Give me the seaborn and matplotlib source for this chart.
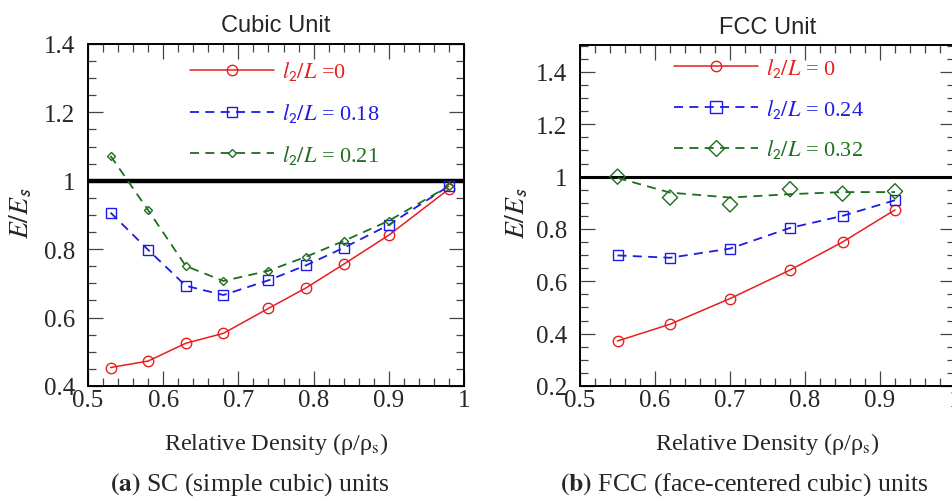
import numpy as np
import pandas as pd
import seaborn as sns
import matplotlib
matplotlib.use("Agg")
import matplotlib.pyplot as plt
from matplotlib.lines import Line2D
from matplotlib.ticker import MultipleLocator

sns.set_theme(style="white")
plt.rcParams['font.family'] = ['Liberation Serif', 'DejaVu Serif']
plt.rcParams['mathtext.fontset'] = 'stix'

# ---- data: (a) SC simple cubic units ----
sc_density = [0.53, 0.58, 0.63, 0.68, 0.74, 0.79, 0.84, 0.90, 0.98]
sc_l0 = [0.454, 0.473, 0.525, 0.554, 0.627, 0.687, 0.756, 0.841, 0.976]
sc_l018 = [0.907, 0.798, 0.693, 0.666, 0.709, 0.753, 0.804, 0.871, 0.985]
sc_l021 = [1.073, 0.914, 0.751, 0.707, 0.737, 0.778, 0.824, 0.883, 0.985]
sc_labels = ["0", "0.18", "0.21"]

# ---- data: (b) FCC face-centered cubic units ----
fcc_density = [0.55, 0.62, 0.70, 0.78, 0.85, 0.92]
fcc_l0 = [0.372, 0.436, 0.534, 0.643, 0.750, 0.873]
fcc_l024 = [0.699, 0.690, 0.725, 0.804, 0.850, 0.910]
fcc_l032 = [1.000, 0.920, 0.894, 0.952, 0.935, 0.944]
fcc_l032_curve = [0.995, 0.939, 0.920, 0.933, 0.941, 0.941]
fcc_labels = ["0", "0.24", "0.32"]

RED = '#e81e1e'
BLUE = '#1c1ce6'
GREEN = '#1d6e1d'
DASH = (0, (5, 3.5))

fig = plt.figure(figsize=(9.52, 5.02), dpi=100)
W, H = 952, 502
def pos(x0, y0, x1, y1):
    return [x0 / W, 1 - y1 / H, (x1 - x0) / W, (y1 - y0) / H]

axL = fig.add_axes(pos(88, 45, 464, 387))
axR = fig.add_axes(pos(580, 46, 955, 387))


def series(ax, x, y, color, ls, lw, marker, ms, show_marker=True):
    df = pd.DataFrame({"x": x, "y": y})
    sns.lineplot(data=df, x="x", y="y", ax=ax, color=color, linestyle=ls,
                 linewidth=lw, marker=marker if show_marker else None,
                 markersize=ms, markerfacecolor='none', markeredgecolor=color,
                 markeredgewidth=1.0, legend=False, zorder=3)


# Left panel
axL.axhline(1.0, color='black', lw=3.2, zorder=2)
series(axL, sc_density, sc_l0, RED, '-', 1.1, 'o', 7.5)
series(axL, sc_density, sc_l018, BLUE, DASH, 1.3, 's', 7.5)
series(axL, sc_density, sc_l021, GREEN, DASH, 1.3, 'D', 4.0)

# Right panel
axR.axhline(1.0, color='black', lw=2.2, zorder=2)
series(axR, fcc_density, fcc_l0, RED, '-', 1.1, 'o', 7.5)
series(axR, fcc_density, fcc_l024, BLUE, DASH, 1.3, 's', 7.5)
series(axR, fcc_density, fcc_l032_curve, GREEN, DASH, 1.3, None, 0, show_marker=False)
sns.scatterplot(x=fcc_density, y=fcc_l032, ax=axR, marker='D', s=60,
                facecolors='none', edgecolor=GREEN, linewidth=1.0, zorder=4,
                legend=False)

for ax, ylim, title, lab in [(axL, (0.4, 1.4), "Cubic Unit", -0.142),
                             (axR, (0.2, 1.503), "FCC Unit", -0.132)]:
    ax.set_xlim(0.5, 1.0)
    ax.set_ylim(*ylim)
    ax.xaxis.set_major_locator(MultipleLocator(0.1))
    ax.xaxis.set_minor_locator(MultipleLocator(0.02))
    ax.yaxis.set_major_locator(MultipleLocator(0.2))
    ax.yaxis.set_minor_locator(MultipleLocator(0.05))
    ax.tick_params(which='both', direction='in', top=True, right=True,
                   bottom=True, left=True, color='#444444', width=0.9,
                   labelsize=18)
    ax.tick_params(which='major', length=11)
    ax.tick_params(which='minor', length=6)
    ax.tick_params(axis='x', which='major', pad=2)
    ax.tick_params(axis='y', which='major', pad=9)
    ax.xaxis.set_major_formatter(plt.FuncFormatter(lambda v, p: f"{v:g}"))
    ax.yaxis.set_major_formatter(plt.FuncFormatter(lambda v, p: f"{v:g}"))
    for s in ax.spines.values():
        s.set_visible(True)
        s.set_color('black')
        s.set_linewidth(1.4)
    ax.set_title(title, fontsize=17, family=['Liberation Sans'], pad=9)
    ax.set_xlabel(r"Relative Density (ρ/ρ$_{\mathrm{s}}$)", fontsize=17.5)
    ax.xaxis.set_label_coords(0.5, -0.13)
    ax.set_ylabel(r"$E/E_{\mathsf{s}}$", fontsize=20)
    ax.yaxis.set_label_coords(lab, 0.51)


def legend(ax, labels, dsize, x0, y0):
    handles = [
        Line2D([], [], color=RED, lw=1.1, ls='-', marker='o', ms=7.5,
               mfc='none', mec=RED, mew=1.0),
        Line2D([], [], color=BLUE, lw=1.3, ls=DASH, marker='s', ms=7.5 if dsize < 6 else 8,
               mfc='none', mec=BLUE, mew=1.0),
        Line2D([], [], color=GREEN, lw=1.3, ls=DASH, marker='D', ms=dsize,
               mfc='none', mec=GREEN, mew=1.0),
    ]
    texts = []
    for i, l in enumerate(labels):
        if i == 0 and ax is axL:
            texts.append(r"$l_{\mathsf{2}}/L$ =" + l)
        else:
            texts.append(r"$l_{\mathsf{2}}/L$ = " + l)
    leg = ax.legend(handles, texts, loc='upper left', bbox_to_anchor=(x0, y0),
                    frameon=False, fontsize=16, handlelength=3.8,
                    handletextpad=0.35, labelspacing=0.85 if ax is axL else 0.8,
                    borderaxespad=0, borderpad=0)
    for t, c in zip(leg.get_texts(), [RED, BLUE, GREEN]):
        t.set_color(c)


legend(axL, sc_labels, 4.0, 0.27, 0.955)
legend(axR, fcc_labels, 8.0, 0.25, 0.968)

fig.text(250 / W, 1 - 485 / H, r"$\mathbf{(a)}$ SC (simple cubic) units",
         ha='center', va='center', fontsize=18.5)
fig.text(744 / W, 1 - 485 / H, r"$\mathbf{(b)}$ FCC (face-centered cubic) units",
         ha='center', va='center', fontsize=18.5)

fig.savefig("out.png", dpi=100)
